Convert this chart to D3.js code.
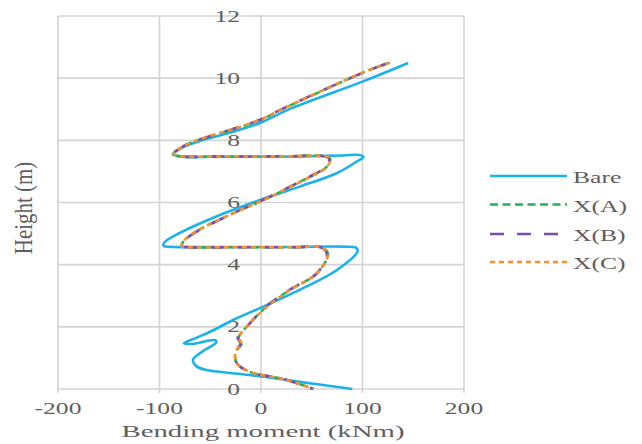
<!DOCTYPE html>
<html>
<head>
<meta charset="utf-8">
<script src="https://cdn.jsdelivr.net/npm/d3@7"></script>
<style>
  html, body { margin: 0; padding: 0; background: #fff; }
  svg { display: block; }
</style>
</head>
<body>
<svg id="chart" width="642" height="444"></svg>
<script>
// Bending moment profiles along the height of the structure
const xTicks = [-200, -100, 0, 100, 200];
const yTicks = [0, 2, 4, 6, 8, 10, 12];

const seriesNames = ["Bare", "X(A)", "X(B)", "X(C)"];

// Bare frame
const bareMoment = [145, 100, 29, -1, -30, -58, -78, -87, -80, -40, 30, 80, 97, 101, 95, 75, 38, -1, -44, -80, -95, -96, -85, -40, 30, 80, 94, 95, 74.5, 38, 5.6, -27.6, -47, -65, -76, -68, -45, -44, -58, -67, -63, -52, -11, 38, 90];
const bareHeight = [10.49, 9.89, 9.02, 8.56, 8.25, 8.0, 7.76, 7.55, 7.48, 7.47, 7.48, 7.51, 7.53, 7.46, 7.33, 6.95, 6.51, 6.08, 5.55, 5.02, 4.72, 4.61, 4.57, 4.57, 4.57, 4.58, 4.54, 4.42, 3.82, 3.19, 2.7, 2.22, 1.89, 1.63, 1.47, 1.45, 1.57, 1.5, 1.2, 0.94, 0.72, 0.6, 0.45, 0.23, 0.0];

// Configuration A
const xaMoment = [125.5, 100, 22, -1, -30, -60, -77, -86, -80, -40, 30, 60, 68, 64.7, 41.7, 5.6, -27, -66.7, -77, -78, -70, -30, 30, 61, 66, 55, 28.6, 5.6, -11, -22, -19, -25, -24, -11, 22, 52];
const xaHeight = [10.49, 10.17, 9.02, 8.65, 8.33, 8.03, 7.8, 7.56, 7.49, 7.48, 7.49, 7.5, 7.41, 7.15, 6.72, 6.13, 5.66, 5.01, 4.72, 4.6, 4.56, 4.56, 4.56, 4.54, 4.34, 3.72, 3.19, 2.65, 2.11, 1.65, 1.46, 1.2, 0.84, 0.55, 0.32, 0.0];

// Configuration B
const xbMoment = [124, 100, 22, -1, -30, -60, -77, -86, -80, -40, 30, 60, 67, 64, 41, 5, -27, -66, -77, -78, -70, -30, 30, 60, 65, 55, 28, 5, -11, -23, -20, -25, -24, -11, 22, 51];
const xbHeight = [10.47, 10.17, 9.03, 8.66, 8.34, 8.03, 7.8, 7.56, 7.49, 7.48, 7.49, 7.5, 7.41, 7.15, 6.72, 6.13, 5.66, 5.01, 4.72, 4.6, 4.56, 4.56, 4.56, 4.54, 4.34, 3.72, 3.19, 2.65, 2.11, 1.65, 1.46, 1.2, 0.84, 0.55, 0.32, 0.0];

// Configuration C
const xcMoment = [127, 100, 23, -1, -30, -60, -77, -86, -80, -40, 30, 60, 68, 65, 42, 6, -27, -67, -77, -78, -70, -30, 30, 61, 66, 55, 29, 6, -11, -22, -19, -25, -24, -11, 22, 52];
const xcHeight = [10.5, 10.18, 9.03, 8.66, 8.34, 8.04, 7.8, 7.56, 7.49, 7.48, 7.49, 7.5, 7.41, 7.15, 6.72, 6.13, 5.66, 5.01, 4.72, 4.6, 4.56, 4.56, 4.56, 4.54, 4.34, 3.72, 3.19, 2.65, 2.11, 1.65, 1.46, 1.2, 0.84, 0.55, 0.32, 0.0];

const series = [
  { name: seriesNames[0], m: bareMoment, h: bareHeight, color: "#1ab2ea", dash: null },
  { name: seriesNames[1], m: xaMoment, h: xaHeight, color: "#22b356", dash: "8,4.5" },
  { name: seriesNames[2], m: xbMoment, h: xbHeight, color: "#7a4db0", dash: "14,13" },
  { name: seriesNames[3], m: xcMoment, h: xcHeight, color: "#f79030", dash: "5,4" }
];

const FONT = "'Liberation Serif', 'DejaVu Serif', 'Times New Roman', serif";
const TEXT_COLOR = "#5e5e5e";

const svg = d3.select("#chart");
const x = d3.scaleLinear().domain([-200, 200]).range([58, 464]);
const y = d3.scaleLinear().domain([0, 12]).range([389, 16]);
const gridColor = "#d4d4d4";

// Gridlines
svg.append("g").selectAll("line").data(xTicks).join("line")
  .attr("x1", d => x(d)).attr("x2", d => x(d))
  .attr("y1", y(12)).attr("y2", y(0) + 4)
  .attr("stroke", gridColor).attr("stroke-width", 1.6);
svg.append("g").selectAll("line").data(yTicks).join("line")
  .attr("x1", x(-200)).attr("x2", x(200))
  .attr("y1", d => y(d)).attr("y2", d => y(d))
  .attr("stroke", gridColor).attr("stroke-width", 1.6);

// Vertical axis at zero moment with outward ticks
svg.append("g").selectAll("line").data(yTicks).join("line")
  .attr("x1", x(0) - 6).attr("x2", x(0))
  .attr("y1", d => y(d)).attr("y2", d => y(d))
  .attr("stroke", gridColor).attr("stroke-width", 1.6);

const sx = 1.6;
// Y tick labels, left of the zero axis
svg.append("g").selectAll("text").data(yTicks).join("text")
  .attr("transform", d => `translate(${x(0) - 21},${y(d) + 5.5}) scale(${sx},1)`)
  .attr("text-anchor", "end")
  .attr("font-family", FONT).attr("fill", TEXT_COLOR)
  .attr("font-size", 16)
  .text(d => d);

// X tick labels
svg.append("g").selectAll("text").data(xTicks).join("text")
  .attr("transform", d => `translate(${x(d)},${413.5}) scale(${sx},1)`)
  .attr("text-anchor", "middle")
  .attr("font-family", FONT).attr("fill", TEXT_COLOR)
  .attr("font-size", 16)
  .text(d => d < 0 ? "-" + Math.abs(d) : d);

// Axis titles
svg.append("text")
  .attr("transform", `translate(263,437) scale(1.8,1)`)
  .attr("text-anchor", "middle")
  .attr("font-family", FONT).attr("fill", TEXT_COLOR)
  .attr("font-size", 16)
  .text("Bending moment (kNm)");
svg.append("text")
  .attr("transform", `translate(32,208) scale(1.6,1.31) rotate(-90)`)
  .attr("text-anchor", "middle")
  .attr("font-family", FONT).attr("fill", TEXT_COLOR)
  .attr("font-size", 16)
  .text("Height (m)");

// Curves
const line = d3.line()
  .x(d => x(d[0]))
  .y(d => y(d[1]))
  .curve(d3.curveCatmullRom.alpha(0.5));

series.forEach(s => {
  const pts = s.m.map((v, i) => [v, s.h[i]]);
  svg.append("path")
    .attr("d", line(pts))
    .attr("fill", "none")
    .attr("stroke", s.color)
    .attr("stroke-width", 2.6)
    .attr("stroke-dasharray", s.dash)
    .attr("stroke-linejoin", "round");
});

// Legend
const legendY = [176, 204.5, 234, 262];
const legend = svg.append("g");
series.forEach((s, i) => {
  legend.append("line")
    .attr("x1", 490).attr("x2", 567)
    .attr("y1", legendY[i]).attr("y2", legendY[i])
    .attr("stroke", s.color)
    .attr("stroke-width", 2.6)
    .attr("stroke-dasharray", s.dash);
  legend.append("text")
    .attr("transform", `translate(573,${legendY[i] + 7}) scale(${sx},1)`)
    .attr("font-family", FONT).attr("fill", TEXT_COLOR)
    .attr("font-size", 16)
    .text(s.name);
});
</script>
</body>
</html>
